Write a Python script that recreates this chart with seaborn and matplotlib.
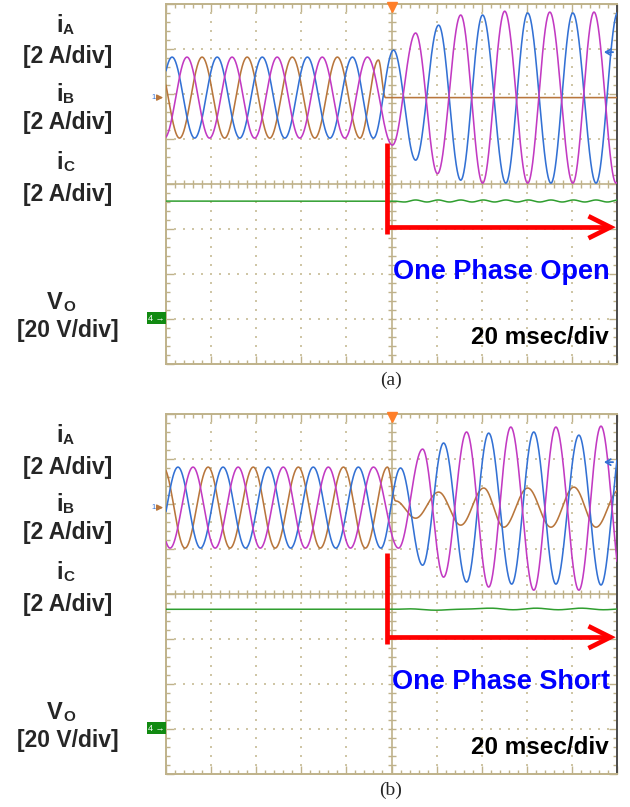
import numpy as np
import pandas as pd
import matplotlib
matplotlib.use("Agg")
import matplotlib.pyplot as plt
import seaborn as sns

# ---------------------------------------------------------------------------
# Scope settings: 20 ms/div over 10 div, trigger (fault instant) at t = 0.
# Currents 2 A/div, output voltage 20 V/div.  Vertical axis is in divisions.
# ---------------------------------------------------------------------------
T_MIN, T_MAX = -100.0, 100.0
AMP_PER_DIV = 2.0
VOLT_PER_DIV = 20.0
I_ZERO_DIV = 1.92      # ground marker of the three current channels
V_ZERO_DIV = -2.98     # ground marker of the voltage channel

# Each trace is stored as its successive extrema: time (ms) and value.
# ---- (a) one phase open ----------------------------------------------------
a_ia_t = [-107.3, -97.3, -87.3, -77.3, -67.3, -57.3, -47.3, -37.3, -27.3, -17.3,
          -8.0, 0.9, 10.7, 20.9, 30.7, 40.4, 50.7, 60.4, 70.7, 80.4, 90.7, 100.4, 110.7]
a_ia_v = [-1.8, 1.8, -1.8, 1.8, -1.8, 1.8, -1.8, 1.8, -1.8, 1.8,
          -1.8, 2.11, -2.78, 3.22, -3.67, 3.67, -3.8, 3.76, -3.8, 3.76, -3.8, 3.8, -3.8]

a_ib_t = [-110.7, -100.7, -90.7, -80.7, -70.7, -60.7, -50.7, -40.7, -30.7, -20.7,
          -10.7, 0.4, 10.7, 20.4, 30.7, 40.4, 50.2, 60.4, 70.2, 80.4, 89.8, 99.6, 109.8]
a_ib_v = [1.8, -1.8, 1.8, -1.8, 1.8, -1.8, 1.8, -1.8, 1.8, -1.8,
          1.8, -2.11, 2.87, -3.38, 3.67, -3.8, 3.84, -3.8, 3.8, -3.8, 3.8, -3.8, 3.8]

a_ic_t = [-104.0, -94.0, -84.0, -74.0, -64.0, -54.0, -44.0, -34.0, -24.0, -14.0,
          -5.8, -2.7, 110.0]
a_ic_v = [1.8, -1.8, 1.8, -1.8, 1.8, -1.8, 1.8, -1.8, 1.8, -1.8,
          1.67, 0.0, 0.0]

a_vo_t = [-110.0, 1.0, 5.7, 10.7, 15.7, 20.7, 25.7, 30.7, 35.7, 40.7, 45.7,
          50.7, 55.7, 60.7, 65.7, 70.7, 75.7, 80.7, 85.7, 90.7, 95.7, 100.7]
a_vo_v = [52.0, 52.0, 51.6, 52.5, 51.6, 52.5, 51.6, 52.5, 51.6, 52.5, 51.6,
          52.5, 51.6, 52.5, 51.6, 52.5, 51.6, 52.5, 51.6, 52.5, 51.6, 52.5]

# ---- (b) one phase short ---------------------------------------------------
b_ia_t = [-104.7, -94.7, -84.7, -74.7, -64.7, -54.7, -44.7, -34.7, -24.7, -14.7,
          -4.7, 4.0, 13.8, 23.1, 33.3, 43.1, 53.3, 63.1, 72.9, 83.1, 92.9, 102.7]
b_ia_v = [-1.8, 1.8, -1.8, 1.8, -1.8, 1.8, -1.8, 1.8, -1.8, 1.8,
          -1.8, 1.76, -2.56, 2.87, -3.31, 3.31, -3.4, 3.36, -3.4, 3.22, -3.44, 3.3]

b_ib_t = [-108.0, -98.2, -88.0, -78.2, -68.0, -58.2, -48.0, -38.2, -28.0, -18.2,
          -8.0, 3.1, 13.8, 23.1, 33.3, 43.1, 52.9, 63.1, 72.9, 83.1, 92.9, 102.7]
b_ib_v = [1.8, -1.8, 1.8, -1.8, 1.8, -1.8, 1.8, -1.8, 1.8, -1.8,
          1.8, -1.8, 2.6, -3.09, 3.36, -3.53, 3.58, -3.67, 3.58, -3.67, 3.62, -3.67]

b_ic_t = [-111.3, -101.3, -91.6, -81.3, -71.6, -61.3, -51.6, -41.3, -31.6, -21.3,
          -11.6, -1.8, 1.8, 10.7, 20.9, 30.7, 40.9, 49.8, 60.4, 70.7, 80.9, 90.7, 100.9]
b_ic_v = [-1.8, 1.8, -1.8, 1.8, -1.8, 1.8, -1.8, 1.8, -1.8, 1.8,
          -1.8, 1.8, 0.3, -0.47, 0.69, -0.78, 0.87, -0.87, 0.87, -0.87, 0.91, -0.87, 0.78]

b_vo_t = [-110.0, 1.0, 8.0, 19.6, 30.0, 44.0, 54.0, 64.0, 74.0, 84.0, 94.0, 104.0]
b_vo_v = [52.8, 52.8, 53.0, 52.4, 52.8, 53.3, 52.6, 53.3, 52.6, 53.3, 52.6, 53.1]

panel_notes = ["One Phase Open", "One Phase Short"]
panel_tags = ["(a)", "(b)"]
timebase_text = "20 msec/div"
channel_labels = [("i", "A", "[2 A/div]"), ("i", "B", "[2 A/div]"),
                  ("i", "C", "[2 A/div]"), ("V", "O", "[20 V/div]")]

# ---------------------------------------------------------------------------
COL_IA = "#3371d4"
COL_IB = "#c23ac2"
COL_IC = "#b8763c"
COL_VO = "#2f9e2f"
GRID = "#bfb28a"
DOT = "#cfc6a6"
RED = "#ff0000"

sns.set_theme(style="white")
plt.rcParams["font.family"] = ["Liberation Sans", "DejaVu Sans"]

W, H = 630, 807
fig = plt.figure(figsize=(W / 100, H / 100), dpi=100)
fig.patch.set_facecolor("white")

PX_T = (T_MAX - T_MIN) / 451.0   # ms per pixel
PX_D = 8.0 / 360.0               # div per pixel


def waveform(t_ext, v_ext, t):
    """Half-cosine segments between successive extrema of a scope trace."""
    te = np.asarray(t_ext, float)
    ve = np.asarray(v_ext, float)
    k = np.clip(np.searchsorted(te, t) - 1, 0, len(te) - 2)
    s = np.clip((t - te[k]) / (te[k + 1] - te[k]), 0.0, 1.0)
    return ve[k] + (ve[k + 1] - ve[k]) * (1 - np.cos(np.pi * s)) / 2


def draw_graticule(ax):
    ax.set_xlim(T_MIN, T_MAX)
    ax.set_ylim(-4, 4)
    ax.set_facecolor("white")
    for side, sp in ax.spines.items():
        sp.set_color(GRID)
        sp.set_linewidth(1.4)
    ax.spines["right"].set_color("#4a4a4a")
    ax.set_xticks(np.arange(-100, 101, 20))
    ax.set_xticks(np.arange(-100, 101, 4), minor=True)
    ax.set_yticks(np.arange(-4, 5, 1))
    ax.set_yticks(np.arange(-4, 4.01, 0.2), minor=True)
    ax.tick_params(which="both", direction="in", top=True, bottom=True,
                   left=True, right=True, labelbottom=False, labelleft=False,
                   color=GRID, width=1.0)
    ax.tick_params(which="major", length=6)
    ax.tick_params(which="minor", length=3)
    # dotted division lines
    xs, ys = [], []
    for xv in range(-80, 81, 20):
        if xv == 0:
            continue
        yy = np.arange(-3.8, 3.81, 0.2)
        xs += [xv] * len(yy)
        ys += list(yy)
    for yv in (-3, -2, -1, 1, 2, 3):
        xx = np.arange(-96, 96.1, 4)
        xs += list(xx)
        ys += [yv] * len(xx)
    ax.scatter(xs, ys, s=0.6, marker="s", color=DOT, linewidths=0, zorder=1)
    # centre cross with sub-division ticks
    ax.axhline(0, color=GRID, lw=1.2, zorder=1)
    ax.axvline(0, color=GRID, lw=1.2, zorder=1)
    tx = np.arange(-96, 97, 4)
    ax.vlines(tx, -4 * PX_D, 4 * PX_D, color=GRID, lw=1.0, zorder=1)
    ty = np.arange(-3.8, 3.81, 0.2)
    ax.hlines(ty, -4 * PX_T, 4 * PX_T, color=GRID, lw=1.0, zorder=1)


def draw_panel(ax, traces, vo, note):
    draw_graticule(ax)
    t = np.linspace(T_MIN, T_MAX, 3001)
    frames = []
    for name, (te, ve) in traces.items():
        frames.append(pd.DataFrame({
            "time": t,
            "level": I_ZERO_DIV + waveform(te, ve, t) / AMP_PER_DIV,
            "trace": name}))
    df = pd.concat(frames, ignore_index=True)
    sns.lineplot(data=df, x="time", y="level", hue="trace",
                 palette={"ia": COL_IA, "ib": COL_IB, "ic": COL_IC},
                 hue_order=["ic", "ia", "ib"], estimator=None, sort=False,
                 legend=False, linewidth=1.15, ax=ax, zorder=3)
    dv = pd.DataFrame({"time": t,
                       "level": V_ZERO_DIV + waveform(vo[0], vo[1], t) / VOLT_PER_DIV})
    sns.lineplot(data=dv, x="time", y="level", color=COL_VO, estimator=None,
                 sort=False, linewidth=1.1, ax=ax, zorder=3)
    ax.set_xlabel("")
    ax.set_ylabel("")

    # fault marker: red corner arrow
    xv = -5 * PX_T
    yh = -0.96
    ax.plot([xv, xv], [0.92, -1.11], color=RED, lw=3.4, zorder=6,
            solid_capstyle="butt")
    ax.plot([xv, 97.1], [yh, yh], color=RED, lw=3.4, zorder=6,
            solid_capstyle="butt")
    ax.plot([97.1 - 22 * PX_T, 97.1, 97.1 - 22 * PX_T],
            [yh + 11 * PX_D, yh, yh - 11 * PX_D], color=RED, lw=3.4,
            zorder=6, solid_joinstyle="miter", solid_capstyle="butt")

    ax.text(96.8, -1.96, note, color="#0000ff", fontsize=19.5, fontweight="bold",
            ha="right", va="center", zorder=7)
    ax.text(96.3, -3.4, timebase_text, color="black", fontsize=17.5,
            fontweight="bold", ha="right", va="center", zorder=7)

    # trigger position and trigger level markers
    ax.plot([0], [3.93], marker="v", markersize=7, color="#ff7f2a",
            clip_on=False, zorder=8, linestyle="none")
    ax.annotate("", xy=(93.0, 2.93), xytext=(99.5, 2.93),
                arrowprops=dict(arrowstyle="->,head_length=0.3,head_width=0.18",
                                color=COL_IA, lw=1.3), zorder=8)
    # channel ground markers on the left edge
    ax.annotate("", xy=(T_MIN, I_ZERO_DIV), xytext=(T_MIN - 4.5, I_ZERO_DIV),
                xycoords="data", annotation_clip=False,
                arrowprops=dict(arrowstyle="-|>,head_length=0.3,head_width=0.15",
                                color=COL_IC, lw=1.0))
    ax.text(T_MIN - 4.6, I_ZERO_DIV, "1", color=COL_IA, fontsize=5.5,
            ha="right", va="center", clip_on=False)
    ax.text(T_MIN - 0.6, V_ZERO_DIV, "4 \u2192", color="white", fontsize=6.5,
            ha="right", va="center", clip_on=False, zorder=9,
            bbox=dict(boxstyle="square,pad=0.15", fc="#118a11", ec="none"))


def fx(px):
    return px / W


def fy(px):
    return 1 - px / H


panels = [
    dict(top=4, note=panel_notes[0],
         traces={"ia": (a_ia_t, a_ia_v), "ib": (a_ib_t, a_ib_v), "ic": (a_ic_t, a_ic_v)},
         vo=(a_vo_t, a_vo_v)),
    dict(top=414, note=panel_notes[1],
         traces={"ia": (b_ia_t, b_ia_v), "ib": (b_ib_t, b_ib_v), "ic": (b_ic_t, b_ic_v)},
         vo=(b_vo_t, b_vo_v)),
]

for k, p in enumerate(panels):
    top = p["top"]
    ax = fig.add_axes([fx(166), fy(top + 360), fx(451), 360 / H])
    draw_panel(ax, p["traces"], p["vo"], p["note"])

    off = top - 4
    # channel names on the left
    name_rows = [32, 101, 169, 309]
    unit_rows = [57, 122, 194, 330]
    for (base, sub, unit), yb, yu in zip(channel_labels, name_rows, unit_rows):
        fig.text(fx(63), fy(yb + off), base, fontsize=17, fontweight="bold",
                 ha="right", va="baseline")
        fig.text(fx(63), fy(yb + off + 2), sub, fontsize=11, fontweight="bold",
                 ha="left", va="baseline")
        fig.text(fx(68), fy(yu + off), unit, fontsize=16.5, fontweight="bold",
                 ha="center", va="center")

    fig.text(fx(391), fy(top + 376), panel_tags[k], fontsize=14,
             family=["Liberation Serif", "DejaVu Serif"], ha="center", va="center")

fig.savefig("out.png", dpi=100, facecolor="white")
